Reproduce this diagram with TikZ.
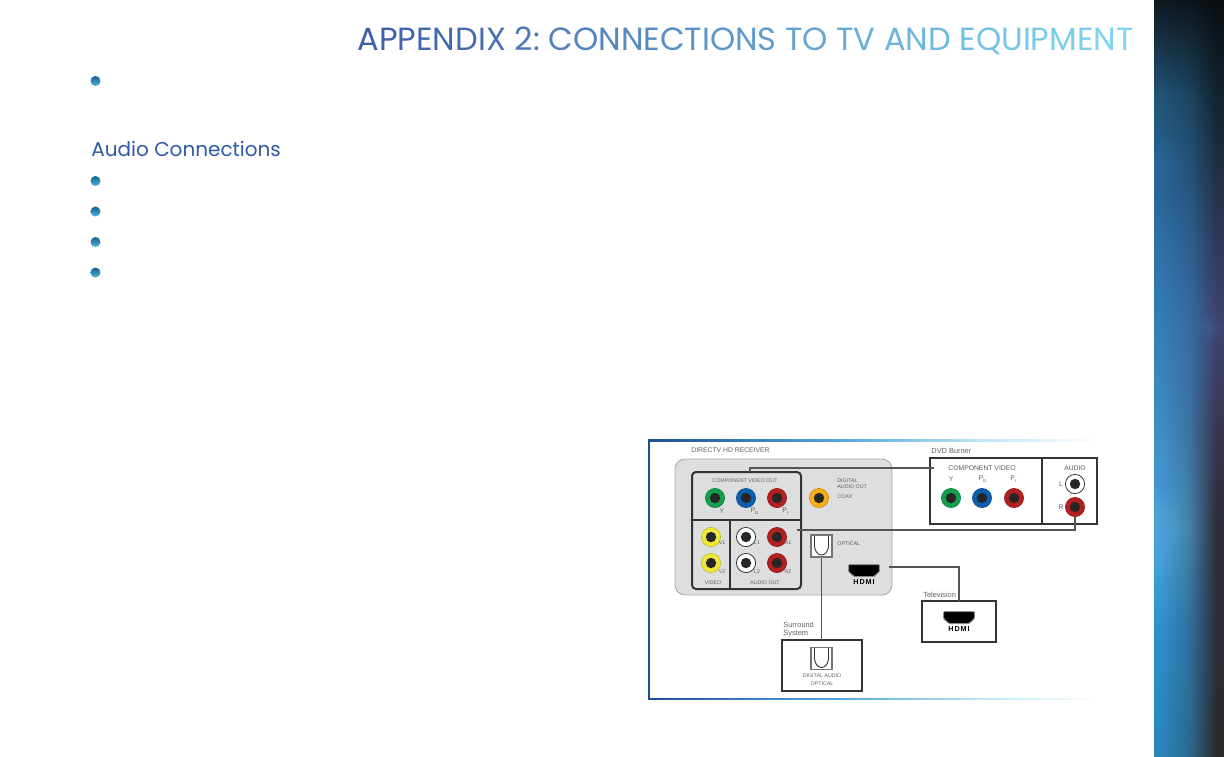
\documentclass[tikz,border=0pt]{standalone}
\usepackage{fontspec}
\setmainfont{Liberation Sans}
\newfontfamily\headfont{Poppins}
\usetikzlibrary{positioning,fadings}

\definecolor{headstart}{HTML}{3D5BA6}
\definecolor{headend}{HTML}{7CD3F0}
\definecolor{subhead}{HTML}{2F5AA6}
\definecolor{labelgray}{HTML}{5F5F5F}
\definecolor{boxline}{HTML}{333333}
\definecolor{wirecol}{HTML}{555555}
\definecolor{receivergray}{HTML}{DEDEDE}
\definecolor{jackgreen}{HTML}{12A04D}
\definecolor{jackblue}{HTML}{0B5FAE}
\definecolor{jackred}{HTML}{B3201F}
\definecolor{jackyellow}{HTML}{EFE83A}
\definecolor{jackorange}{HTML}{F7AE17}
\definecolor{framedark}{HTML}{1C4F8E}
\definecolor{framemid}{HTML}{5AA9DC}
\definecolor{framelight}{HTML}{BFE6F5}
\definecolor{bulletdark}{HTML}{14608F}
\definecolor{bulletlight}{HTML}{4DB8DE}
\definecolor{panelA}{HTML}{2A85BB}
\definecolor{panelB}{HTML}{2F8FCC}
\definecolor{panelC}{HTML}{4EA8DC}
\definecolor{panelD}{HTML}{3F8EC8}
\definecolor{panelE}{HTML}{2D70A8}
\definecolor{panelF}{HTML}{215478}
\definecolor{panelG}{HTML}{0F1820}
\definecolor{darkA}{HTML}{2A2A2A}
\definecolor{darkB}{HTML}{2B2B36}
\definecolor{darkC}{HTML}{37344E}
\definecolor{darkD}{HTML}{3F4470}
\definecolor{darkE}{HTML}{13242F}
\definecolor{darkF}{HTML}{0A0D10}

\pgfdeclarehorizontalshading{frameline}{100bp}{
  color(0bp)=(framedark); color(25bp)=(framedark); color(47bp)=(framemid);
  color(62bp)=(framelight); color(75bp)=(white); color(100bp)=(white)}
\pgfdeclareverticalshading{panelleft}{100bp}{
  color(0bp)=(panelA); color(25bp)=(panelA); color(33.5bp)=(panelB); color(40bp)=(panelC);
  color(46.3bp)=(panelD); color(59bp)=(panelE); color(68.6bp)=(panelF); color(75bp)=(panelG); color(100bp)=(panelG)}
\pgfdeclareverticalshading{panelright}{100bp}{
  color(0bp)=(darkA); color(25bp)=(darkA); color(33.5bp)=(darkB); color(40bp)=(darkB);
  color(46.3bp)=(darkC); color(53.4bp)=(darkD); color(68.6bp)=(darkE); color(75bp)=(darkF); color(100bp)=(darkF)}
\pgfdeclarehorizontalshading{panelfadeshade}{100bp}{
  rgb(0bp)=(0,0,0); rgb(30bp)=(0,0,0); rgb(50bp)=(0.3,0.3,0.3); rgb(70bp)=(1,1,1); rgb(100bp)=(1,1,1)}
\pgfdeclarefading{panelfade}{\pgfuseshading{panelfadeshade}}
\tikzfading[name=blobfade,inner color=transparent!0,outer color=transparent!100]

\begin{document}
\begin{tikzpicture}[
  x=0.5pt,y=-0.5pt,
  tiny/.style={inner sep=0pt,text=labelgray,font=\fontsize{2.65}{3.2}\selectfont},
  small/.style={inner sep=0pt,text=labelgray,font=\fontsize{3.4}{4}\selectfont},
  caption/.style={inner sep=0pt,text=labelgray,font=\fontsize{3.7}{4.4}\selectfont},
  hdmitext/.style={inner sep=0pt,text=black,font=\fontsize{3.6}{4}\selectfont\bfseries\addfontfeature{LetterSpace=14}},
  blackbox/.style={draw=boxline,line width=1pt,inner sep=0pt,outer sep=0pt},
  thinbox/.style={draw=boxline,fill=white,line width=0.6pt,inner sep=0pt,outer sep=0pt},
  wire/.style={draw=wirecol,line width=0.65pt},
  bullet/.style={circle,inner sep=0pt,minimum size=5pt,top color=bulletdark,middle color=bulletdark,bottom color=bulletlight},
  jack/.style={circle,inner sep=0pt,minimum size=9.6pt,fill=#1,draw=#1!80!black,line width=0.3pt,
    path picture={\fill[black!85] (path picture bounding box.center) circle (2.6pt);}},
  whitejack/.style={circle,inner sep=0pt,minimum size=9.6pt,fill=white,draw=boxline,line width=0.4pt,
    path picture={\fill[black!85] (path picture bounding box.center) circle (2.6pt);}},
  optport/.style={draw=black!55,fill=white,line width=0.7pt,inner sep=0pt,minimum width=10.5pt,minimum height=11pt,
    path picture={\draw[black!80,line width=0.45pt,rounded corners=1.5pt,shift={(path picture bounding box.center)}]
      (-7,-12) -- (-7,3) -- (-3,9) -- (3,9) -- (7,3) -- (7,-12);}},
  hdmiport/.style={inner sep=0pt,minimum width=16pt,minimum height=6.5pt,
    path picture={\filldraw[fill=black,draw=black!45,line width=0.5pt,rounded corners=0.5pt,shift={(path picture bounding box.center)}]
      (-15.5,-6) -- (15.5,-6) -- (15.5,1) -- (10,6) -- (-10,6) -- (-15.5,1) -- cycle;}}
]
\useasboundingbox (0,0) rectangle (1224,756);

% side panel
\shade[shading=panelleft] (1154,0) rectangle (1224,756);
\shade[shading=panelright,path fading=panelfade] (1154,0) rectangle (1224,756);
\begin{scope}
  \clip (1154,0) rectangle (1224,756);
  \fill[white!30!cyan!60!blue,opacity=0.4,path fading=blobfade] (1163,485) circle (24);
  \fill[white!40!cyan!70!blue,opacity=0.5,path fading=blobfade] (1160,530) circle (22);
  \fill[white!30!cyan!60!blue,opacity=0.15,path fading=blobfade] (1163,160) circle (28);
  \fill[white!30!cyan!60!blue,opacity=0.15,path fading=blobfade] (1210,328) circle (16);
\end{scope}

% heading
\node[anchor=east,inner sep=0pt,font=\headfont\fontsize{16.05}{18}\selectfont] (title) at (1134,41) {%
  \foreach \ltr [count=\n] in {A,P,P,E,N,D,I,X,\ ,2,:,\ ,C,O,N,N,E,C,T,I,O,N,S,\ ,T,O,\ ,T,V,\ ,A,N,D,\ ,E,Q,U,I,P,M,E,N,T}{%
    \pgfmathsetmacro\mixv{100*\n/42}\textcolor{headend!\mixv!headstart}{\ltr}}};
\node[anchor=west,inner sep=0pt,text=subhead,font=\headfont\fontsize{10}{12}\selectfont] (audiohead) at (91,149) {Audio Connections};
\foreach \name/\y in {b1/81,b2/181,b3/211.5,b4/242,b5/272.5}
  \node[bullet] (\name) at (95.5,\y) {};

% frame
\shade[shading=frameline] (648,439.5) rectangle (1100,441);
\shade[shading=frameline] (648,698) rectangle (1100,699.5);
\fill[framedark] (648,439.5) rectangle (650,699.5);

% receiver
\node[fill=receivergray,draw=black!35,line width=0.4pt,rounded corners=5pt,minimum width=108.5pt,minimum height=68pt,inner sep=0pt] (receiver) at (783.5,527) {};
\node[anchor=west,small] (receivertxt) at (691,450) {DIRECTV HD RECEIVER};
\node[blackbox,rounded corners=2pt,minimum width=54.5pt,minimum height=58.5pt] (compout) at (746.5,530.5) {};
\coordinate (divleft) at (692,520);
\coordinate (divright) at (801,520);
\coordinate (divtop) at (730,520);
\coordinate (divbot) at (730,589);
\draw[draw=boxline,line width=0.8pt] (divleft) -- (divright);
\draw[draw=boxline,line width=0.8pt] (divtop) -- (divbot);

\foreach \name/\x/\y/\col in {rgreen/715/498/jackgreen,rblue/746/498/jackblue,rred/777/498/jackred,rcoax/819/498/jackorange,
  vone/711/537/jackyellow,vtwo/711/563/jackyellow,rone/777/537/jackred,rtwo/777/563/jackred}
  \node[jack=\col] (\name) at (\x,\y) {};
\node[whitejack] (lone) at (746,537) {};
\node[whitejack] (ltwo) at (746,563) {};

\node[tiny] (comptxt) at (745,481) {COMPONENT VIDEO OUT};
\node[small] (ytxt) at (722,511) {Y};
\node[small] (pbtxt) at (755,511) {P\textsubscript{b}};
\node[small] (prtxt) at (786,511) {P\textsubscript{r}};
\node[tiny] (vonetxt) at (722,543) {V1};
\node[tiny] (vtwotxt) at (722,572) {V2};
\node[tiny] (lonetxt) at (757,543) {L1};
\node[tiny] (ltwotxt) at (757,572) {L2};
\node[tiny] (ronetxt) at (788,543) {R1};
\node[tiny] (rtwotxt) at (788,572) {R2};
\node[tiny] (videotxt) at (713,583) {VIDEO};
\node[tiny] (audiotxt) at (765,583) {AUDIO OUT};
\node[tiny,anchor=west] (digtxt) at (837,481) {DIGITAL};
\node[tiny,anchor=west] (audtxt) at (837,487) {AUDIO OUT};
\node[tiny,anchor=west] (coaxtxt) at (837,497) {COAX};
\node[tiny,anchor=west] (opttxt) at (837,544) {OPTICAL};
\node[optport] (recopt) at (821.5,546) {};
\node[hdmiport] (rechdmi) at (864,570.5) {};
\node[hdmitext] (rechdmitxt) at (864,582) {HDMI};

% dvd burner
\node[anchor=west,caption] (dvdtxt) at (931,451) {DVD Burner};
\node[blackbox,fill=white,anchor=north west,minimum width=56pt,minimum height=33pt] (dvdcomp) at (930,458) {};
\node[blackbox,fill=white,anchor=north west,minimum width=27.5pt,minimum height=33pt] (dvdaudio) at (dvdcomp.north east) {};
\foreach \name/\x/\y/\col in {dgreen/951/498/jackgreen,dblue/982/498/jackblue,dred/1014/498/jackred,jackR/1075/507/jackred}
  \node[jack=\col] (\name) at (\x,\y) {};
\node[whitejack] (jackL) at (1075,484) {};
\node[small] (dcomptxt) at (982,468) {COMPONENT VIDEO};
\node[small] (dytxt) at (951,479) {Y};
\node[small] (dpbtxt) at (983,479) {P\textsubscript{b}};
\node[small] (dprtxt) at (1014,479) {P\textsubscript{r}};
\node[small] (daudtxt) at (1075,468) {AUDIO};
\node[small] (dltxt) at (1061,484) {L};
\node[small] (drtxt) at (1061,507) {R};

% television and surround
\node[anchor=west,caption] (tvtxt) at (923,595) {Television};
\node[thinbox,minimum width=37pt,minimum height=20.5pt] (tvbox) at (959,621.5) {};
\node[hdmiport] (tvhdmi) at (959,617.5) {};
\node[hdmitext] (tvhdmitxt) at (959,629) {HDMI};
\node[anchor=west,caption] (surtxt) at (783,625) {Surround};
\node[anchor=west,caption] (systxt) at (783,634) {System};
\node[thinbox,minimum width=40pt,minimum height=25.5pt] (surround) at (822,665.5) {};
\node[optport] (suropt) at (821.5,658.5) {};
\node[tiny] (sdigtxt) at (822,676) {DIGITAL AUDIO};
\node[tiny] (sopttxt) at (822,684) {OPTICAL};

% connections
\coordinate (compup) at (750,472);
\coordinate (dvdin) at (934,468);
\coordinate (audout) at (797,530);
\coordinate (hdmiout) at (889,567);
\draw[wire] (compup) |- (dvdin);
\draw[wire] (audout) -| (jackR.south);
\draw[wire] (hdmiout) -| (tvbox.north);
\draw[wire] (recopt.south) -- (recopt.south |- surround.north);
\end{tikzpicture}
\end{document}
